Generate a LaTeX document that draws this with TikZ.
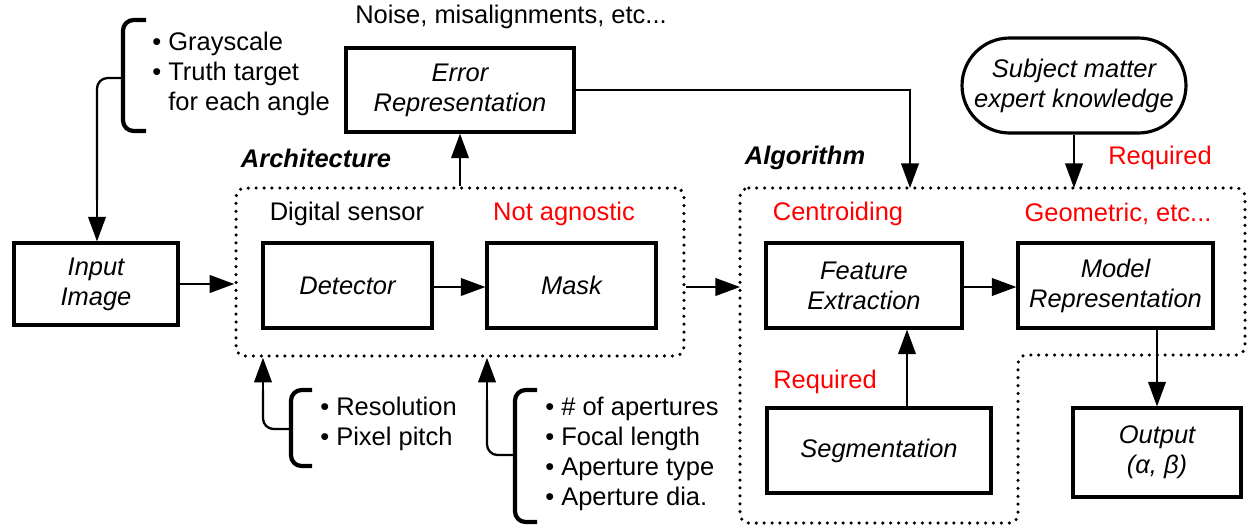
\documentclass[tikz,border=0pt]{standalone}
\usepackage{fontspec}
\setmainfont{Liberation Sans}
\usetikzlibrary{arrows.meta}

\tikzset{
  box/.style={draw, line width=1.8pt, align=center, font=\fontsize{14.5}{17}\selectfont\itshape},
  dotbox/.style={draw, line width=2pt, dash pattern=on 0pt off 4.5pt, line cap=round, rounded corners=5pt},
  arr/.style={line width=1.2pt, -{Triangle[length=14pt,width=10pt]}},
  brk/.style={line width=2.4pt, rounded corners=6pt},
  lnk/.style={line width=1.3pt, rounded corners=6pt},
  lst/.style={align=left, anchor=west, inner sep=0pt},
  note/.style={text=red}
}

\begin{document}
\fontsize{14.5}{17}\selectfont
\begin{tikzpicture}[x=0.02cm, y=-0.02cm] % 1 unit = 1 px
  \useasboundingbox (0,0) rectangle (1247,528);

  % Boxes
  \node[box, minimum width=3.28cm, minimum height=1.64cm] (input) at (96,284) {Input\\Image};
  \node[box, minimum width=4.56cm, minimum height=1.68cm] (err) at (460,90) {Error\\Representation};
  \node[box, minimum width=3.38cm, minimum height=1.70cm] (det) at (347.5,285.5) {Detector};
  \node[box, minimum width=3.38cm, minimum height=1.70cm] (mask) at (571.5,285.5) {Mask};
  \node[box, minimum width=3.92cm, minimum height=1.70cm] (feat) at (864,285.5) {Feature\\Extraction};
  \node[box, minimum width=3.90cm, minimum height=1.70cm] (model) at (1115.5,285.5) {Model\\Representation};
  \node[box, minimum width=4.48cm, minimum height=1.70cm] (seg) at (879,450.5) {Segmentation};
  \node[box, minimum width=3.36cm, minimum height=1.78cm] (out) at (1157,452.5) {Output\\(α, β)};
  \node[box, minimum width=4.48cm, minimum height=1.90cm, rounded corners=0.95cm] (sme) at (1074,85.5) {Subject matter\\expert knowledge};

  % Architecture and algorithm regions
  \node[dotbox, minimum width=8.96cm, minimum height=3.36cm] (arch) at (460,272) {};
  \draw[dotbox] (740,188) -- (1245,188) -- (1245,355) -- (1018,355) -- (1018,523) -- (740,523) -- cycle;
  \coordinate (algW) at (740,287);
  \coordinate (algN) at (910,188);
  \coordinate (algNE) at (1075,188);
  \coordinate (segN) at (907,408);

  % Labels
  \node[font=\fontsize{14.5}{17}\selectfont\bfseries\itshape] (archlbl) at (316,158) {Architecture};
  \node[font=\fontsize{14.5}{17}\selectfont\bfseries\itshape] (alglbl) at (805,158) {Algorithm};
  \node (noise) at (511,17) {Noise, misalignments, etc...};
  \node (sensor) at (347,214) {Digital sensor};
  \node[note] (agn) at (564,214) {Not agnostic};
  \node[note] (cent) at (838,214) {Centroiding};
  \node[note] (geom) at (1118,214) {Geometric, etc...};
  \node[note] (req1) at (1160,158) {Required};
  \node[note] (req2) at (825,382) {Required};

  % Lists
  \node[lst] (inlist) at (152,74) {• Grayscale\\• Truth target\\\phantom{• }for each angle};
  \node[lst] (reslist) at (320,424) {• Resolution\\• Pixel pitch};
  \node[lst] (aplist) at (545,454) {• \# of apertures\\• Focal length\\• Aperture type\\• Aperture dia.};

  % Brackets
  \draw[brk] (146,20) -- (123,20) -- (123,131) -- (146,131);
  \draw[brk] (312,390) -- (291,390) -- (291,466) -- (312,466);
  \draw[brk] (537,390) -- (515,390) -- (515,522) -- (537,522);
  \draw[lnk] (123,78) -- (97,78) -- (97,200);
  \draw[arr] (97,190) -- (input.north -| 97,0);
  \draw[lnk] (291,429) -- (263,429) -- (263,390);
  \draw[arr] (263,400) -- (arch.south -| 263,0);
  \draw[lnk] (515,455) -- (487,455) -- (487,400);
  \draw[arr] (487,410) -- (arch.south -| 487,0);

  % Connectors
  \draw[arr] (input.east) -- (arch.west |- input.east);
  \draw[arr] (det.east |- 0,287) -- (mask.west |- 0,287);
  \draw[arr] (arch.east |- algW) -- (algW);
  \draw[arr] (arch.north) -- (err.south);
  \draw[arr] (err.east) -| (algN);
  \draw[arr] (sme.south) -- (sme.south |- algNE);
  \draw[arr] (feat.east |- 0,287) -- (model.west |- 0,287);
  \draw[arr] (segN) -- (segN |- feat.south);
  \draw[arr] (out.north |- model.south) -- (out.north);
\end{tikzpicture}
\end{document}
